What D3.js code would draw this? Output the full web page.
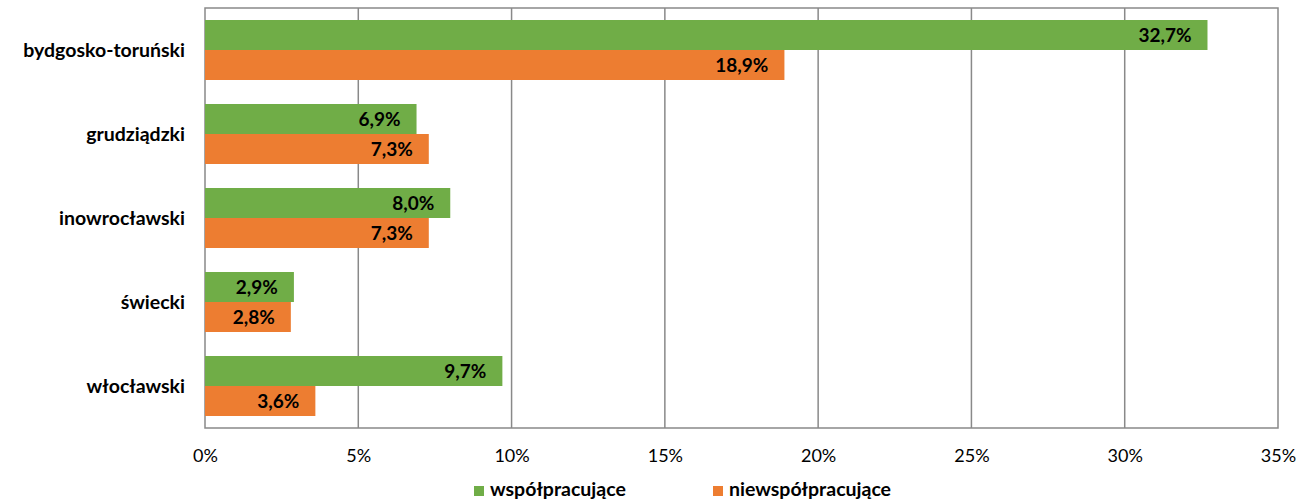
<!DOCTYPE html>
<html>
<head>
<meta charset="utf-8">
<script src="https://cdn.jsdelivr.net/npm/d3@7"></script>
<style>
  body { margin: 0; background: #fff; }
  text { font-family: Lato, "Open Sans", sans-serif; }
</style>
</head>
<body>
<script>
// Data
const categories = ["bydgosko-toruński", "grudziądzki", "inowrocławski", "świecki", "włocławski"];
const seriesNames = ["współpracujące", "niewspółpracujące"];
const wspolpracujace = [32.7, 6.9, 8.0, 2.9, 9.7];
const niewspolpracujace = [18.9, 7.3, 7.3, 2.8, 3.6];
const tickValues = [0, 5, 10, 15, 20, 25, 30, 35];

// Layout constants
const WIDTH = 1301;
const HEIGHT = 502;
const PLOT_LEFT = 205;
const PLOT_RIGHT = 1278;
const PLOT_TOP = 8;
const PLOT_BOTTOM = 428;
const COLORS = ["#70AD47", "#ED7D31"];
const GRID_COLOR = "#898989";

var svg = d3.select("body").append("svg")
  .attr("width", WIDTH)
  .attr("height", HEIGHT);

var x = d3.scaleLinear().domain([0, 35]).range([PLOT_LEFT, PLOT_RIGHT]);
var y = d3.scaleBand().domain(categories).range([PLOT_TOP, PLOT_BOTTOM])
  .paddingInner(24 / 84).paddingOuter(12 / 84);
var ySub = d3.scaleBand().domain([0, 1]).range([0, y.bandwidth()]);

// Gridlines
svg.append("g").selectAll("line")
  .data(tickValues.slice(1, -1))
  .join("line")
  .attr("x1", d => x(d)).attr("x2", d => x(d))
  .attr("y1", PLOT_TOP).attr("y2", PLOT_BOTTOM)
  .attr("stroke", GRID_COLOR).attr("stroke-width", 1.5);

// Plot border
svg.append("rect")
  .attr("x", PLOT_LEFT).attr("y", PLOT_TOP)
  .attr("width", PLOT_RIGHT - PLOT_LEFT).attr("height", PLOT_BOTTOM - PLOT_TOP)
  .attr("fill", "none").attr("stroke", GRID_COLOR).attr("stroke-width", 1.5);

// Bars
const series = [wspolpracujace, niewspolpracujace];
series.forEach(function(values, s) {
  var g = svg.append("g");
  g.selectAll("rect")
    .data(values)
    .join("rect")
    .attr("x", x(0))
    .attr("y", (d, i) => y(categories[i]) + ySub(s))
    .attr("width", d => x(d) - x(0))
    .attr("height", ySub.bandwidth())
    .attr("fill", COLORS[s]);

  g.selectAll("text")
    .data(values)
    .join("text")
    .attr("x", d => x(d) - 16)
    .attr("y", (d, i) => y(categories[i]) + ySub(s) + ySub.bandwidth() / 2)
    .attr("dy", "0.36em")
    .attr("text-anchor", "end")
    .attr("font-size", 19)
    .attr("font-weight", "bold")
    .attr("fill", "#000")
    .text(d => d.toFixed(1).replace(".", ",") + "%");
});

// Category axis labels
svg.append("g").selectAll("text")
  .data(categories)
  .join("text")
  .attr("x", 185)
  .attr("y", d => y(d) + y.bandwidth() / 2)
  .attr("dy", "0.36em")
  .attr("text-anchor", "end")
  .attr("font-size", 19.5)
  .attr("font-weight", "bold")
  .attr("fill", "#000")
  .text(d => d);

// X axis
var xAxis = svg.append("g")
  .attr("transform", "translate(0," + PLOT_BOTTOM + ")")
  .call(d3.axisBottom(x).tickValues(tickValues).tickSize(0).tickPadding(21)
    .tickFormat(d => d + "%"));
xAxis.select(".domain").remove();
xAxis.selectAll("text")
  .attr("font-size", 18)
  .attr("font-family", "Lato, 'Open Sans', sans-serif")
  .attr("fill", "#000");

// Legend
const legendX = [474, 713];
var legend = svg.append("g").selectAll("g")
  .data(seriesNames)
  .join("g")
  .attr("transform", (d, i) => "translate(" + legendX[i] + ",486)");
legend.append("rect")
  .attr("width", 10).attr("height", 10)
  .attr("fill", (d, i) => COLORS[i]);
legend.append("text")
  .attr("x", 16).attr("y", 10)
  .attr("font-size", 19.5)
  .attr("font-weight", "bold")
  .attr("fill", "#000")
  .text(d => d);
</script>
</body>
</html>
